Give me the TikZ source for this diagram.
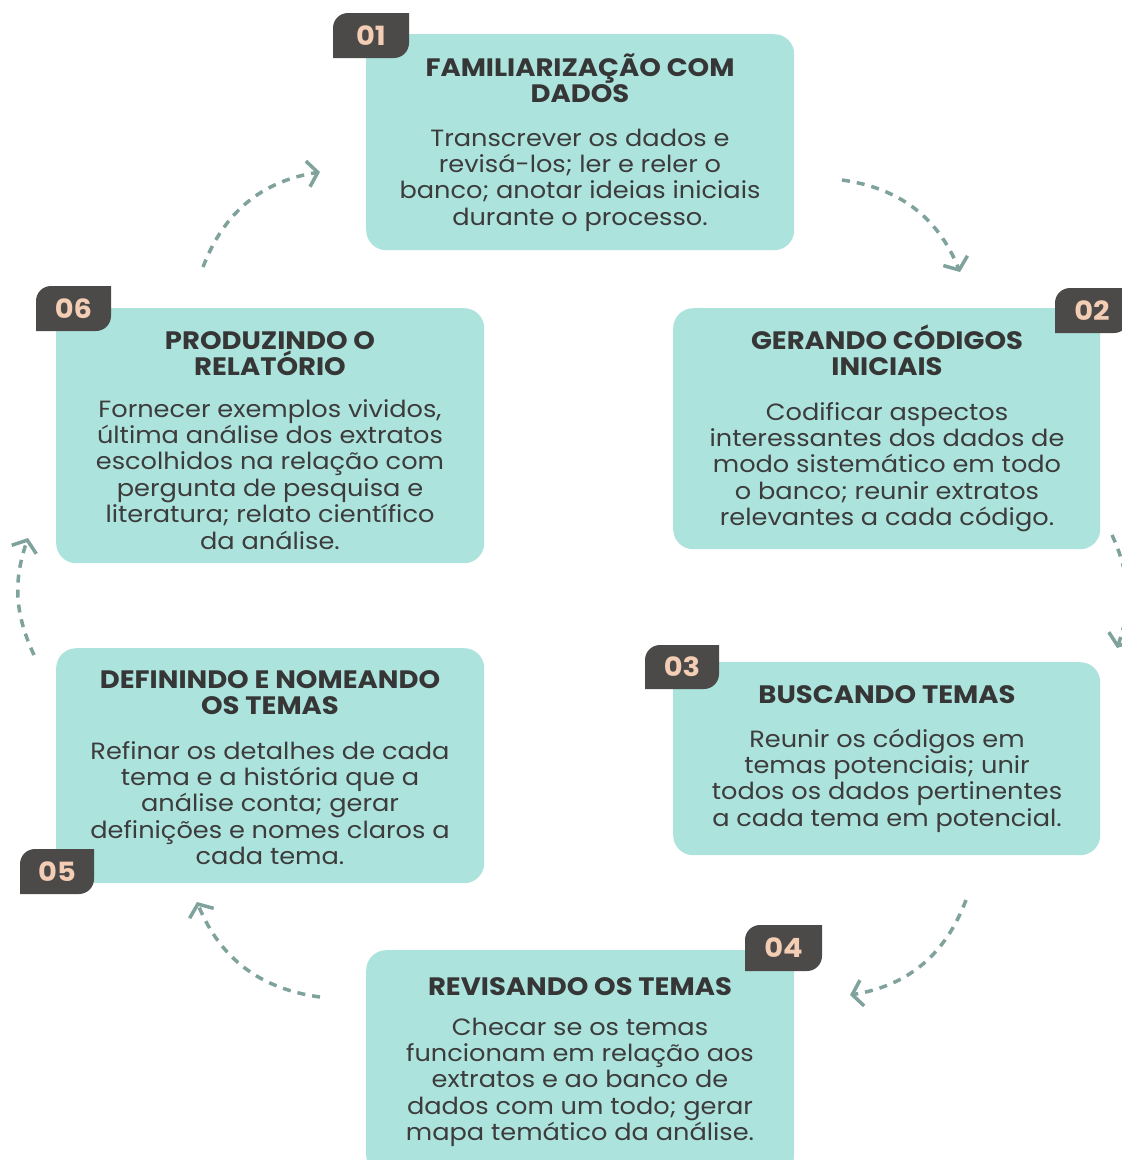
\documentclass[tikz,border=0pt]{standalone}
\usepackage{fontspec}
\setmainfont{Poppins}[FakeStretch=1.09]
\usetikzlibrary{arrows.meta}
\definecolor{boxc}{HTML}{ADE3DD}
\definecolor{tabc}{HTML}{4B4A49}
\definecolor{numc}{HTML}{F3CDB4}
\definecolor{txtc}{HTML}{363636}
\definecolor{bodyc}{HTML}{3C3C3C}
\definecolor{arrc}{HTML}{7FA29C}
\newcommand\tabnum[6]{%
  \fill[tabc] (#3,-#2) -- (#3,-#4+15) arc[start angle=0,end angle=-90,radius=15]
    -- (#1,-#4) -- (#1,-#2-15) arc[start angle=180,end angle=90,radius=15] -- cycle;
  \node[num] (#5) at ({(#1+#3)/2},{-(#2+#4)/2}) {#6};%
}
\begin{document}
\begin{tikzpicture}[x=1pt,y=1pt,
  box/.style={fill=boxc, rounded corners=20pt, inner sep=0pt, anchor=north west},
  ttl/.style={font=\bfseries\fontsize{25.2}{26.4}\selectfont, text=txtc, align=center, anchor=base, inner sep=0pt},
  bdy/.style={font=\fontsize{23.5}{26.4}\selectfont, text=bodyc, align=center, anchor=base, inner sep=0pt},
  num/.style={font=\bfseries\fontsize{26.5}{27}\selectfont, text=numc, inner sep=0pt},
  flow/.style={arrc, line width=3.5pt, dash pattern=on 8pt off 7pt,
    -{Straight Barb[length=10pt,width=26pt]}}]
\useasboundingbox (0,0) rectangle (1122,-1160);
\fill[white] (0,0) rectangle (1122,-1160);

% boxes
\node[box, minimum width=428pt, minimum height=216pt] (b1) at (366,-34) {};
\node[box, minimum width=427pt, minimum height=241pt] (b2) at (673,-308) {};
\node[box, minimum width=427pt, minimum height=193pt] (b3) at (673,-662) {};
\node[box, minimum width=428pt, minimum height=225pt] (b4) at (366,-950) {};
\node[box, minimum width=428pt, minimum height=235pt] (b5) at (56,-648) {};
\node[box, minimum width=428pt, minimum height=255pt] (b6) at (56,-308) {};

% tabs
\tabnum{333}{13}{409}{58}{n1}{01}
\tabnum{1055}{288}{1129}{333}{n2}{02}
\tabnum{645}{645}{719}{689}{n3}{03}
\tabnum{745}{925}{822}{971}{n4}{04}
\tabnum{20}{849}{94}{894}{n5}{05}
\tabnum{36}{286}{111}{331}{n6}{06}

% texts (anchor=base is the baseline of the last line)
\node[ttl] (t1) at (580,-102.4) {FAMILIARIZAÇÃO COM\\DADOS};
\node[bdy] (d1) at (580,-225.2) {Transcrever os dados e\\revisá-los; ler e reler o\\banco; anotar ideias iniciais\\durante o processo.};

\node[ttl] (t2) at (887,-375.4) {GERANDO CÓDIGOS\\INICIAIS};
\node[bdy] (d2) at (887,-525.6) {Codificar aspectos\\interessantes dos dados de\\modo sistemático em todo\\o banco; reunir extratos\\relevantes a cada código.};

\node[ttl] (t3) at (887,-703) {BUSCANDO TEMAS};
\node[bdy] (d3) at (887,-826.2) {Reunir os códigos em\\temas potenciais; unir\\todos os dados pertinentes\\a cada tema em potencial.};

\node[ttl] (t4) at (580,-995) {REVISANDO OS TEMAS};
\node[bdy] (d4) at (580,-1140.6) {Checar se os temas\\funcionam em relação aos\\extratos e ao banco de\\dados com um todo; gerar\\mapa temático da análise.};

\node[ttl] (t5) at (270,-714.4) {DEFININDO E NOMEANDO\\OS TEMAS};
\node[bdy] (d5) at (270,-864.6) {Refinar os detalhes de cada\\tema e a história que a\\análise conta; gerar\\definições e nomes claros a\\cada tema.};

\node[ttl] (t6) at (270,-375.4) {PRODUZINDO O\\RELATÓRIO};
\node[bdy] (d6) at (270,-549) {Fornecer exemplos vividos,\\última análise dos extratos\\escolhidos na relação com\\pergunta de pesquisa e\\literatura; relato científico\\da análise.};

% arrows
\coordinate (a1s) at (203,-267); \coordinate (a1e) at (320,-172);
\coordinate (a2s) at (842,-180); \coordinate (a2e) at (960,-272);
\coordinate (a3s) at (1112,-535); \coordinate (a3e) at (1117,-648);
\coordinate (a4s) at (966,-900); \coordinate (a4e) at (850,-995);
\coordinate (a5s) at (320,-997); \coordinate (a5e) at (197,-902);
\coordinate (a6s) at (34,-655); \coordinate (a6e) at (28,-538);
\draw[flow] (a1s) to[bend left=30] (a1e);
\draw[flow] (a2s) to[bend left=30] (a2e);
\draw[flow] (a3s) to[bend left=22] (a3e);
\draw[flow] (a4s) to[bend left=30] (a4e);
\draw[flow] (a5s) to[bend left=30] (a5e);
\draw[flow] (a6s) to[bend left=22] (a6e);
\end{tikzpicture}
\end{document}
